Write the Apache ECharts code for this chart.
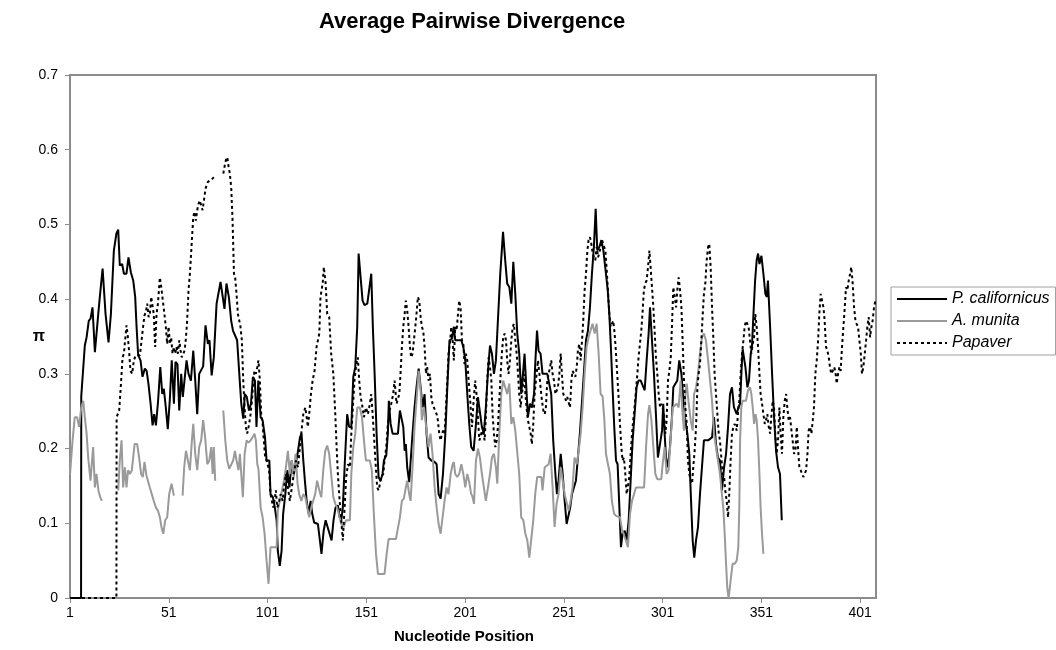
<!DOCTYPE html>
<html><head><meta charset="utf-8">
<script src="https://cdn.jsdelivr.net/npm/echarts@6/dist/echarts.min.js"></script>
<style>html,body{margin:0;padding:0;background:#fff}#c{width:1056px;height:650px}</style>
</head><body><div id="c"></div>
<script>
// [nucleotide position, pi] ; null = no data (gap)
const calData = [[1,0],[6.6,0],[6.7,0.27],[8.5,0.338],[9.4,0.349],[10.5,0.371],[11.4,0.374],[12.4,0.389],[13.6,0.329],[15.3,0.38],[16.1,0.403],[17.5,0.441],[19.0,0.38],[20.5,0.342],[21.7,0.38],[23.2,0.465],[24.5,0.488],[25.4,0.493],[26.2,0.445],[27.4,0.447],[28.3,0.434],[29.6,0.434],[30.6,0.456],[31.8,0.436],[33.0,0.425],[34.0,0.403],[34.7,0.363],[35.5,0.325],[36.7,0.318],[37.7,0.296],[38.9,0.307],[39.8,0.304],[40.7,0.287],[41.8,0.26],[42.8,0.231],[43.6,0.246],[44.5,0.231],[45.6,0.264],[46.7,0.309],[47.7,0.273],[48.5,0.28],[49.5,0.255],[50.5,0.226],[51.5,0.264],[52.5,0.318],[53.6,0.26],[54.4,0.316],[55.4,0.313],[56.3,0.251],[57.3,0.3],[58.1,0.269],[59.0,0.267],[60.0,0.318],[61.0,0.3],[62.2,0.291],[63.4,0.331],[64.4,0.291],[65.4,0.246],[66.4,0.3],[67.4,0.302],[68.4,0.31],[69.6,0.365],[70.8,0.34],[71.6,0.345],[72.7,0.298],[73.8,0.322],[75.2,0.394],[76.0,0.394],[77.2,0.423],[78.2,0.423],[79.2,0.387],[80.2,0.421],[81.4,0.403],[82.6,0.371],[83.5,0.358],[84.5,0.36],[85.6,0.345],[86.7,0.3],[87.7,0.26],[88.7,0.24],[89.5,0.273],[90.5,0.269],[91.6,0.251],[92.6,0.26],[93.6,0.296],[94.6,0.291],[95.4,0.229],[96.3,0.291],[97.5,0.242],[98.5,0.238],[99.7,0.215],[100.5,0.184],[101.9,0.184],[102.5,0.139],[103.7,0.135],[104.7,0.121],[105.6,0.104],[106.2,0.063],[107.2,0.043],[108.1,0.063],[108.9,0.113],[110.0,0.139],[111.0,0.171],[112.1,0.148],[113.2,0.184],[114.2,0.166],[115.2,0.166],[116.2,0.193],[117.4,0.215],[118.2,0.22],[119.1,0.184],[119.9,0.157],[120.8,0.13],[121.8,0.113],[122.8,0.13],[123.6,0.113],[124.6,0.101],[125.6,0.099],[126.5,0.099],[127.5,0.077],[128.3,0.059],[129.4,0.09],[130.4,0.104],[131.4,0.104],[132.4,0.086],[133.4,0.077],[134.4,0.104],[135.4,0.121],[136.6,0.124],[137.5,0.108],[138.3,0.104],[139.1,0.121],[140.0,0.175],[141.3,0.246],[142.3,0.229],[143.4,0.229],[144.4,0.296],[145.4,0.309],[146.4,0.363],[147.1,0.461],[148.1,0.461],[149.1,0.398],[150.1,0.392],[151.5,0.394],[152.5,0.394],[153.5,0.434],[154.3,0.363],[155.2,0.3],[156.2,0.22],[157.2,0.162],[158.2,0.157],[159.2,0.166],[159.9,0.184],[161.1,0.191],[161.9,0.22],[162.4,0.264],[163.3,0.233],[164.3,0.22],[165.6,0.22],[167.0,0.22],[168.0,0.251],[169.0,0.253],[169.7,0.229],[170.4,0.197],[171.0,0.206],[171.7,0.175],[172.7,0.155],[173.4,0.157],[174.4,0.22],[175.4,0.255],[176.4,0.282],[177.5,0.307],[178.5,0.282],[179.5,0.255],[180.5,0.273],[181.5,0.22],[182.5,0.188],[183.9,0.184],[185.6,0.182],[186.6,0.179],[187.6,0.139],[188.6,0.133],[189.8,0.166],[191.0,0.22],[192.0,0.282],[193.1,0.345],[194.3,0.347],[195.3,0.363],[196.0,0.345],[197.0,0.345],[198.0,0.345],[199.1,0.345],[200.1,0.336],[201.1,0.318],[202.1,0.273],[203.1,0.233],[204.1,0.202],[205.3,0.197],[206.5,0.233],[207.5,0.269],[208.5,0.267],[209.5,0.229],[210.5,0.22],[211.5,0.255],[212.6,0.304],[213.6,0.338],[214.6,0.327],[215.6,0.3],[216.6,0.318],[217.6,0.371],[218.8,0.434],[220.2,0.49],[221.3,0.452],[222.3,0.421],[223.4,0.416],[224.4,0.394],[225.4,0.45],[226.4,0.407],[227.4,0.354],[228.4,0.327],[229.4,0.273],[230.3,0.3],[231.1,0.327],[231.8,0.291],[232.8,0.242],[233.8,0.26],[234.8,0.255],[235.9,0.273],[236.5,0.313],[237.4,0.358],[238.2,0.331],[239.2,0.327],[240.2,0.3],[241.3,0.3],[242.6,0.3],[243.6,0.3],[244.6,0.273],[245.6,0.211],[246.7,0.166],[247.5,0.139],[248.3,0.157],[249.4,0.193],[250.4,0.166],[251.4,0.13],[252.4,0.099],[253.4,0.099],[254.2,0.121],[255.1,0.139],[256.1,0.148],[257.1,0.157],[258.1,0.188],[259.1,0.22],[260.2,0.264],[261.2,0.304],[262.2,0.345],[263.2,0.358],[264.2,0.389],[265.2,0.434],[266.2,0.47],[267.1,0.521],[267.9,0.465],[269.0,0.47],[270.0,0.479],[271.0,0.465],[272.3,0.434],[273.2,0.412],[274.0,0.38],[274.8,0.336],[275.7,0.278],[276.5,0.229],[277.4,0.184],[278.2,0.179],[279.1,0.121],[279.9,0.068],[280.7,0.086],[281.8,0.09],[282.8,0.077],[283.8,0.104],[284.8,0.157],[285.8,0.211],[286.8,0.246],[287.8,0.282],[288.8,0.291],[289.9,0.291],[290.9,0.291],[291.9,0.278],[292.9,0.318],[293.9,0.354],[294.6,0.389],[295.6,0.345],[296.6,0.3],[297.6,0.246],[298.6,0.188],[299.6,0.188],[300.7,0.224],[301.3,0.26],[302.0,0.22],[302.7,0.188],[303.7,0.175],[304.7,0.202],[305.7,0.242],[306.4,0.282],[307.4,0.282],[308.4,0.291],[309.4,0.318],[310.5,0.3],[311.5,0.264],[312.5,0.238],[313.5,0.22],[314.5,0.193],[315.3,0.135],[316.2,0.077],[317.0,0.054],[317.9,0.077],[318.9,0.095],[319.9,0.139],[320.9,0.175],[321.9,0.211],[322.9,0.211],[324.0,0.211],[325.0,0.211],[326.0,0.215],[327.0,0.242],[328.0,0.206],[329.0,0.188],[330.0,0.184],[331.0,0.144],[332.1,0.175],[333.1,0.193],[334.1,0.229],[335.1,0.273],[336.1,0.282],[337.1,0.255],[338.5,0.246],[339.3,0.255],[340.2,0.26],[341.0,0.309],[341.5,0.333],[342.2,0.331],[342.9,0.309],[343.9,0.282],[344.7,0.291],[345.6,0.327],[346.2,0.336],[346.9,0.376],[347.8,0.425],[348.6,0.452],[349.3,0.461],[350.0,0.447],[351.0,0.458],[352.0,0.434],[353.0,0.407],[353.7,0.403],[354.3,0.425],[355.4,0.363],[356.4,0.3],[357.4,0.242],[358.4,0.197],[359.4,0.175],[360.4,0.166],[361.3,0.104]];

const munData = [[1,0.165],[2.3,0.211],[3.4,0.242],[4.6,0.242],[5.6,0.229],[6.7,0.255],[7.7,0.264],[8.5,0.242],[9.4,0.22],[10.2,0.188],[11.4,0.157],[12.7,0.202],[13.6,0.148],[14.4,0.166],[15.4,0.144],[16.3,0.135],[17.1,0.13],[21,null],[25.4,0.144],[26.2,0.184],[27.1,0.211],[27.9,0.148],[28.8,0.175],[29.6,0.148],[30.4,0.171],[31.3,0.166],[32.3,0.171],[33.7,0.206],[35.0,0.206],[36.0,0.188],[37.0,0.166],[37.9,0.162],[38.7,0.182],[39.7,0.164],[40.6,0.162],[41.4,0.148],[42.4,0.146],[43.4,0.13],[44.5,0.121],[45.5,0.117],[46.5,0.108],[47.3,0.095],[48.2,0.086],[49.2,0.104],[50.2,0.108],[51.2,0.139],[52.4,0.153],[53.6,0.137],[56,null],[58.0,0.137],[58.8,0.175],[59.7,0.197],[60.7,0.184],[61.7,0.171],[62.7,0.211],[63.4,0.233],[64.4,0.193],[65.4,0.171],[66.4,0.202],[67.4,0.211],[68.4,0.238],[69.4,0.215],[70.5,0.179],[71.5,0.184],[72.5,0.202],[73.2,0.166],[73.8,0.202],[74.5,0.157],[76.5,null],[78.6,0.251],[79.6,0.211],[80.6,0.184],[81.6,0.173],[82.6,0.173],[83.6,0.184],[84.5,0.197],[85.3,0.184],[86.3,0.171],[87.0,0.193],[87.7,0.166],[88.5,0.135],[89.4,0.193],[90.4,0.211],[91.4,0.208],[92.4,0.211],[93.4,0.215],[94.4,0.22],[95.1,0.211],[95.8,0.179],[96.4,0.173],[97.5,0.121],[98.5,0.108],[99.5,0.086],[100.5,0.05],[101.5,0.019],[102.5,0.068],[103.5,0.068],[104.5,0.068],[105.6,0.068],[106.2,0.117],[107.2,0.13],[108.3,0.144],[109.3,0.157],[110.3,0.175],[111.3,0.197],[112.3,0.166],[113.3,0.184],[114.3,0.162],[115.2,0.193],[116.2,0.153],[117.0,0.139],[118.1,0.13],[119.1,0.139],[120.1,0.135],[121.1,0.121],[122.1,0.108],[123.1,0.121],[124.1,0.13],[125.1,0.139],[126.1,0.157],[127.2,0.144],[128.2,0.135],[129.2,0.171],[130.2,0.197],[131.2,0.204],[132.2,0.193],[133.2,0.166],[134.3,0.135],[135.3,0.126],[136.3,0.12],[137.3,0.11],[138.3,0.099],[139.6,0.095],[140.7,0.104],[141.7,0.104],[142.7,0.104],[143.4,0.166],[144.4,0.202],[145.4,0.22],[146.4,0.255],[147.7,0.255],[148.8,0.242],[149.8,0.211],[150.8,0.184],[151.8,0.184],[152.8,0.184],[153.8,0.171],[154.8,0.113],[155.9,0.059],[156.9,0.032],[157.9,0.032],[158.9,0.032],[160.2,0.032],[161.3,0.059],[162.3,0.079],[163.3,0.079],[164.6,0.079],[166.0,0.079],[167.0,0.079],[168.0,0.108],[169.0,0.13],[170.0,0.133],[171.0,0.148],[171.7,0.157],[172.7,0.139],[173.4,0.13],[174.4,0.175],[175.4,0.229],[176.4,0.264],[177.5,0.304],[178.5,0.278],[179.1,0.238],[180.2,0.255],[181.5,0.224],[182.5,0.202],[183.5,0.22],[184.5,0.193],[185.6,0.148],[186.6,0.121],[187.6,0.099],[188.6,0.086],[189.6,0.108],[190.6,0.13],[191.6,0.148],[192.6,0.139],[193.7,0.166],[194.7,0.179],[195.3,0.182],[196.0,0.166],[197.0,0.162],[198.0,0.166],[199.1,0.179],[200.1,0.166],[201.1,0.148],[202.1,0.166],[203.1,0.155],[204.0,0.14],[204.8,0.135],[205.5,0.126],[206.5,0.184],[207.5,0.2],[208.5,0.188],[209.5,0.166],[210.5,0.148],[211.5,0.13],[212.6,0.148],[213.6,0.166],[214.6,0.188],[215.6,0.193],[216.6,0.175],[217.3,0.153],[218.3,0.22],[219.3,0.273],[220.3,0.291],[221.3,0.291],[222.3,0.273],[223.4,0.287],[224.4,0.233],[225.4,0.242],[226.4,0.224],[227.4,0.224],[228.4,0.166],[229.4,0.108],[230.5,0.104],[231.5,0.086],[232.5,0.077],[233.5,0.054],[234.5,0.054],[235.5,0.104],[236.5,0.139],[237.5,0.162],[238.5,0.162],[239.6,0.162],[240.2,0.144],[241.3,0.175],[242.3,0.175],[243.3,0.179],[244.3,0.193],[245.3,0.148],[246.3,0.095],[247.3,0.126],[248.3,0.139],[249.4,0.175],[250.4,0.157],[251.4,0.139],[252.4,0.139],[253.4,0.117],[254.4,0.13],[255.4,0.148],[256.4,0.188],[257.5,0.179],[258.5,0.197],[259.5,0.22],[260.5,0.255],[261.5,0.3],[262.5,0.336],[263.5,0.349],[264.5,0.358],[265.5,0.367],[266.6,0.354],[267.6,0.367],[268.6,0.327],[269.6,0.273],[270.6,0.27],[271.5,0.238],[272.3,0.193],[273.3,0.193],[274.3,0.166],[275.3,0.13],[276.4,0.113],[277.4,0.11],[278.4,0.11],[279.4,0.108],[280.4,0.092],[281.4,0.09],[282.4,0.077],[283.4,0.068],[284.5,0.113],[285.5,0.13],[286.5,0.13],[287.5,0.148],[288.5,0.148],[289.5,0.148],[290.5,0.148],[291.6,0.148],[292.6,0.202],[293.6,0.246],[294.3,0.258],[295.3,0.238],[296.3,0.202],[297.3,0.166],[298.3,0.159],[299.3,0.159],[300.3,0.159],[301.0,0.179],[302.0,0.202],[303.0,0.166],[304.0,0.171],[305.0,0.211],[306.1,0.255],[307.1,0.255],[308.1,0.26],[309.1,0.255],[310.1,0.291],[311.1,0.246],[311.8,0.224],[312.5,0.273],[313.2,0.287],[314.2,0.26],[315.2,0.238],[316.2,0.224],[316.9,0.273],[317.9,0.282],[318.9,0.3],[319.9,0.327],[320.9,0.349],[321.9,0.354],[322.9,0.345],[324.0,0.318],[325.0,0.291],[326.0,0.264],[327.0,0.22],[328.0,0.202],[329.0,0.184],[330.0,0.166],[331.0,0.139],[331.7,0.121],[332.4,0.086],[333.1,0.046],[333.7,0.014],[334.4,0],[335.4,0],[336.4,0.046],[337.5,0.046],[338.5,0.05],[339.3,0.068],[339.8,0.121],[340.2,0.211],[340.8,0.255],[341.5,0.264],[342.2,0.264],[343.2,0.264],[344.2,0.278],[345.2,0.282],[345.9,0.273],[346.6,0.255],[347.3,0.233],[348.0,0.246],[348.6,0.238],[349.3,0.211],[350.0,0.166],[350.6,0.121],[351.3,0.086],[352.0,0.059]];

const papData = [[1,0],[24.5,0],[24.6,0.242],[25.9,0.251],[26.9,0.291],[27.6,0.322],[28.3,0.327],[28.9,0.345],[29.6,0.365],[30.3,0.349],[31.0,0.327],[31.6,0.304],[32.5,0.3],[33.3,0.318],[34.3,0.325],[36.4,0.325],[37.4,0.327],[38.0,0.363],[38.7,0.378],[39.4,0.383],[40.1,0.394],[40.8,0.376],[41.4,0.38],[42.1,0.403],[42.8,0.405],[43.4,0.38],[44.1,0.336],[44.8,0.38],[45.5,0.394],[46.5,0.429],[47.2,0.416],[48.2,0.416],[48.8,0.38],[49.5,0.363],[50.2,0.34],[50.9,0.363],[51.6,0.34],[52.2,0.349],[52.9,0.327],[53.6,0.336],[54.3,0.327],[54.9,0.336],[55.6,0.327],[56.3,0.345],[57.0,0.331],[57.6,0.322],[58.3,0.322],[59.0,0.331],[59.6,0.345],[60.3,0.371],[61.0,0.412],[61.7,0.434],[62.7,0.479],[63.4,0.51],[64.0,0.517],[64.7,0.505],[65.4,0.519],[66.1,0.528],[66.7,0.532],[67.4,0.53],[68.1,0.519],[68.8,0.532],[69.6,0.548],[70.8,0.557],[72.1,0.559],[73.8,0.563],[76,null],[78.6,0.568],[79.2,0.577],[79.9,0.586],[80.6,0.59],[81.3,0.577],[81.9,0.568],[82.6,0.55],[83.3,0.505],[84.0,0.434],[84.6,0.429],[85.3,0.407],[86.0,0.38],[86.7,0.371],[87.3,0.363],[88.0,0.345],[88.7,0.291],[89.4,0.255],[90.0,0.229],[90.7,0.22],[91.7,0.233],[92.4,0.246],[93.1,0.264],[93.8,0.291],[94.4,0.304],[95.1,0.3],[95.8,0.309],[96.4,0.318],[97.1,0.291],[97.8,0.246],[98.5,0.233],[99.1,0.211],[99.8,0.188],[100.5,0.184],[101.2,0.184],[101.8,0.171],[102.5,0.139],[103.2,0.13],[103.9,0.121],[104.5,0.13],[105.2,0.144],[105.9,0.121],[106.6,0.126],[107.6,0.139],[108.6,0.13],[109.3,0.148],[110.3,0.166],[111.3,0.148],[112.3,0.13],[113.3,0.148],[114.3,0.166],[115.4,0.184],[116.4,0.175],[117.4,0.202],[118.4,0.229],[119.1,0.246],[120.1,0.255],[120.8,0.242],[121.4,0.229],[122.1,0.246],[122.8,0.269],[123.8,0.291],[124.8,0.304],[125.8,0.336],[126.5,0.345],[127.2,0.354],[127.8,0.403],[128.9,0.421],[129.5,0.443],[130.4,0.421],[131.2,0.38],[132.2,0.376],[133.2,0.327],[134.3,0.3],[135.3,0.245],[136.0,0.2],[136.6,0.166],[137.5,0.13],[138.3,0.104],[139.1,0.077],[140.0,0.121],[140.8,0.162],[141.7,0.179],[142.7,0.175],[143.4,0.22],[144.2,0.255],[145.0,0.291],[145.9,0.313],[146.7,0.322],[147.4,0.291],[148.1,0.269],[148.8,0.26],[149.8,0.242],[150.8,0.255],[151.8,0.246],[152.8,0.26],[153.5,0.273],[154.2,0.246],[154.8,0.22],[155.9,0.171],[156.5,0.148],[157.2,0.144],[157.9,0.153],[158.5,0.162],[159.6,0.166],[160.2,0.184],[161.1,0.202],[161.9,0.233],[162.8,0.251],[163.6,0.26],[164.6,0.273],[165.3,0.291],[166.3,0.26],[167.0,0.26],[167.7,0.273],[168.3,0.3],[169.0,0.336],[169.7,0.363],[170.4,0.38],[171.0,0.398],[171.7,0.385],[172.4,0.363],[173.1,0.336],[173.7,0.322],[174.4,0.327],[175.1,0.345],[175.8,0.363],[176.4,0.38],[177.1,0.403],[177.8,0.398],[178.5,0.376],[179.1,0.363],[179.8,0.358],[180.5,0.336],[181.2,0.3],[181.8,0.309],[182.5,0.291],[183.2,0.3],[183.9,0.269],[184.5,0.26],[185.2,0.255],[185.9,0.255],[186.6,0.246],[187.2,0.238],[187.9,0.22],[188.6,0.211],[189.3,0.22],[189.9,0.224],[190.6,0.22],[191.3,0.255],[192.0,0.291],[192.6,0.327],[193.3,0.34],[194.0,0.363],[194.7,0.345],[195.3,0.318],[196.0,0.363],[196.7,0.358],[197.4,0.38],[198.0,0.398],[198.7,0.389],[199.4,0.345],[200.1,0.34],[200.7,0.313],[201.4,0.327],[202.1,0.318],[202.8,0.291],[203.6,0.264],[204.5,0.229],[205.3,0.264],[206.1,0.291],[206.8,0.273],[207.5,0.242],[208.2,0.211],[208.8,0.215],[209.5,0.224],[210.2,0.22],[210.9,0.211],[211.5,0.242],[212.2,0.291],[212.9,0.322],[213.6,0.309],[214.3,0.291],[214.9,0.246],[215.6,0.22],[216.3,0.202],[217.0,0.211],[217.6,0.229],[218.3,0.264],[219.0,0.3],[219.6,0.327],[220.3,0.349],[221.0,0.354],[221.7,0.345],[222.3,0.318],[223.0,0.3],[223.7,0.318],[224.4,0.345],[225.1,0.363],[225.7,0.367],[226.4,0.345],[227.1,0.327],[227.8,0.3],[228.4,0.273],[229.1,0.255],[229.8,0.273],[230.8,0.3],[231.5,0.273],[232.1,0.255],[232.8,0.238],[233.5,0.229],[234.2,0.22],[234.8,0.206],[235.5,0.233],[236.2,0.273],[237.2,0.3],[237.9,0.318],[238.6,0.3],[239.2,0.282],[239.9,0.264],[240.6,0.251],[241.3,0.246],[241.9,0.255],[242.6,0.291],[243.3,0.3],[244.0,0.309],[244.6,0.318],[245.3,0.3],[246.0,0.291],[246.7,0.273],[247.3,0.273],[248.0,0.282],[248.7,0.3],[249.4,0.327],[250.0,0.3],[250.7,0.273],[251.4,0.269],[252.1,0.264],[252.7,0.269],[253.4,0.269],[254.1,0.255],[254.8,0.291],[255.4,0.304],[256.1,0.3],[256.8,0.296],[257.5,0.309],[258.1,0.331],[258.8,0.34],[259.5,0.318],[260.2,0.345],[260.8,0.371],[261.5,0.412],[262.2,0.434],[262.9,0.465],[263.5,0.479],[264.2,0.483],[264.9,0.474],[265.6,0.461],[266.2,0.456],[266.9,0.452],[267.6,0.47],[268.3,0.456],[268.9,0.461],[269.6,0.47],[270.3,0.479],[271.3,0.479],[272.0,0.465],[272.6,0.443],[273.3,0.412],[274.0,0.38],[274.7,0.363],[275.3,0.367],[276.0,0.371],[276.7,0.354],[277.4,0.327],[278.0,0.3],[278.7,0.269],[279.4,0.233],[280.1,0.202],[280.7,0.184],[281.4,0.188],[282.1,0.166],[282.8,0.139],[283.4,0.148],[284.1,0.162],[284.8,0.193],[285.5,0.22],[286.1,0.238],[286.8,0.255],[287.5,0.278],[288.2,0.3],[288.8,0.322],[289.5,0.34],[290.2,0.358],[290.9,0.385],[291.5,0.412],[292.2,0.421],[292.9,0.425],[293.6,0.443],[294.3,0.465],[294.9,0.443],[295.6,0.416],[296.3,0.389],[297.0,0.354],[297.6,0.322],[298.3,0.3],[299.0,0.273],[299.7,0.255],[300.3,0.26],[301.0,0.255],[301.7,0.242],[302.4,0.22],[303.0,0.238],[303.7,0.291],[304.4,0.304],[305.1,0.322],[305.7,0.363],[306.4,0.416],[307.1,0.403],[307.8,0.389],[308.4,0.412],[309.1,0.429],[309.8,0.412],[310.5,0.389],[311.1,0.345],[311.8,0.291],[312.5,0.255],[313.2,0.233],[313.8,0.184],[314.5,0.166],[315.2,0.157],[315.9,0.153],[316.5,0.175],[317.2,0.197],[317.9,0.229],[318.6,0.282],[319.2,0.3],[319.9,0.313],[320.6,0.345],[321.3,0.38],[321.9,0.407],[322.6,0.421],[323.3,0.452],[324.0,0.47],[324.6,0.474],[325.3,0.443],[326.0,0.389],[326.7,0.345],[327.3,0.3],[328.0,0.273],[328.7,0.246],[329.4,0.22],[330.0,0.211],[330.7,0.188],[331.4,0.166],[332.1,0.162],[332.7,0.144],[333.4,0.13],[334.1,0.108],[334.8,0.144],[335.4,0.184],[336.1,0.22],[336.8,0.229],[337.5,0.233],[338.5,0.224],[339.1,0.246],[339.8,0.264],[340.5,0.3],[341.2,0.327],[341.9,0.345],[342.5,0.363],[343.2,0.371],[343.9,0.369],[344.5,0.363],[345.2,0.345],[345.9,0.327],[346.6,0.34],[347.3,0.349],[347.9,0.38],[348.6,0.363],[349.3,0.336],[350.0,0.3],[350.6,0.273],[351.3,0.26],[352.0,0.246],[352.7,0.233],[353.3,0.238],[354.0,0.246],[354.7,0.229],[355.4,0.22],[356.0,0.242],[356.7,0.264],[357.4,0.255],[358.0,0.22],[358.7,0.193],[359.4,0.211],[360.1,0.255],[360.7,0.22],[361.4,0.193],[362.1,0.242],[362.8,0.264],[363.5,0.273],[364.1,0.255],[364.8,0.238],[365.5,0.242],[366.2,0.224],[366.8,0.211],[367.5,0.193],[368.2,0.197],[368.9,0.229],[369.5,0.202],[370.2,0.175],[370.9,0.171],[371.6,0.166],[372.2,0.162],[372.9,0.166],[373.6,0.171],[374.3,0.193],[374.9,0.224],[375.6,0.229],[376.3,0.22],[377.0,0.238],[377.6,0.255],[378.3,0.3],[379.0,0.318],[379.7,0.345],[380.3,0.38],[381.0,0.407],[381.7,0.398],[382.4,0.389],[383.0,0.371],[383.7,0.336],[384.4,0.331],[385.1,0.322],[385.7,0.309],[386.4,0.3],[387.1,0.304],[387.8,0.309],[388.4,0.304],[389.1,0.287],[389.8,0.3],[390.5,0.309],[391.1,0.304],[391.8,0.336],[392.5,0.363],[393.2,0.389],[393.8,0.416],[394.5,0.412],[395.2,0.425],[395.9,0.434],[396.5,0.443],[397.2,0.421],[397.9,0.389],[398.6,0.371],[399.2,0.367],[399.9,0.363],[400.6,0.345],[401.3,0.327],[401.9,0.3],[402.6,0.309],[403.3,0.327],[404.0,0.345],[404.6,0.363],[405.3,0.376],[406.0,0.349],[406.7,0.363],[407.3,0.371],[408.0,0.389],[408.7,0.398]];

const seriesNames = ['P. californicus', 'A. munita', 'Papaver'];
const firstPosition = 1;      // first tick label
const lastPosition = 409;     // right edge of the axis
const tickStep = 50;
const yMax = 0.7, yStep = 0.1;

const FONT = 'Liberation Sans, Arial, sans-serif';
// axis is counted from 0 internally so ticks land on 1, 51, 101, ...
const toSeries = arr => arr.map(([p, v]) => [p - firstPosition, v === null ? '-' : v]);

const chart = echarts.init(document.getElementById('c'), null, {renderer: 'canvas'});
chart.setOption({
  animation: false,
  backgroundColor: '#fff',
  title: {
    text: 'Average Pairwise Divergence',
    left: 314, top: 6,
    textStyle: {fontFamily: FONT, fontSize: 22, fontWeight: 'bold', color: '#000'}
  },
  legend: {
    orient: 'vertical', left: 891, top: 287,
    itemWidth: 50, itemHeight: 14, itemGap: 6,
    padding: [4, 6, 4, 5],
    borderColor: '#a0a0a0', borderWidth: 1,
    itemStyle: {opacity: 0},
    textStyle: {fontFamily: FONT, fontSize: 16, fontStyle: 'italic', color: '#000'},
    data: seriesNames
  },
  grid: {left: 70, right: 180, top: 75, bottom: 52, show: true, borderColor: '#8c8c8c', borderWidth: 2, backgroundColor: '#fff'},
  xAxis: {
    type: 'value', min: 0, max: lastPosition - firstPosition, interval: tickStep,
    name: 'Nucleotide Position', nameLocation: 'middle', nameGap: 31,
    nameTextStyle: {fontFamily: FONT, fontSize: 15, fontWeight: 'bold', color: '#000', padding: [0, 18, 0, 0]},
    axisLine: {lineStyle: {color: '#8c8c8c', width: 2}},
    axisTick: {show: true, length: 5, lineStyle: {color: '#8c8c8c'}},
    axisLabel: {margin: 8, fontFamily: FONT, fontSize: 14, color: '#000', showMaxLabel: false,
      formatter: v => String(v + firstPosition)},
    splitLine: {show: false}
  },
  yAxis: {
    type: 'value', min: 0, max: yMax, interval: yStep,
    name: 'π', nameLocation: 'middle', nameRotate: 0, nameGap: 25, nameMoveOverlap: false,
    nameTextStyle: {fontFamily: FONT, fontSize: 16, fontWeight: 'bold', color: '#000'},
    axisLine: {show: true, lineStyle: {color: '#8c8c8c', width: 2}},
    axisTick: {show: true, length: 5, lineStyle: {color: '#8c8c8c'}},
    axisLabel: {margin: 12, fontFamily: FONT, fontSize: 14, color: '#000'},
    splitLine: {show: false}
  },
  series: [
    {name: seriesNames[0], type: 'line', data: toSeries(calData), symbol: 'none', connectNulls: false,
     lineStyle: {color: '#000', width: 2}, itemStyle: {color: '#000'}},
    {name: seriesNames[1], type: 'line', data: toSeries(munData), symbol: 'none', connectNulls: false,
     lineStyle: {color: '#9a9a9a', width: 2}, itemStyle: {color: '#9a9a9a'}},
    {name: seriesNames[2], type: 'line', data: toSeries(papData), symbol: 'none', connectNulls: false,
     lineStyle: {color: '#000', width: 2, type: [3, 3]}, itemStyle: {color: '#000'}}
  ]
});
</script>
</body></html>
